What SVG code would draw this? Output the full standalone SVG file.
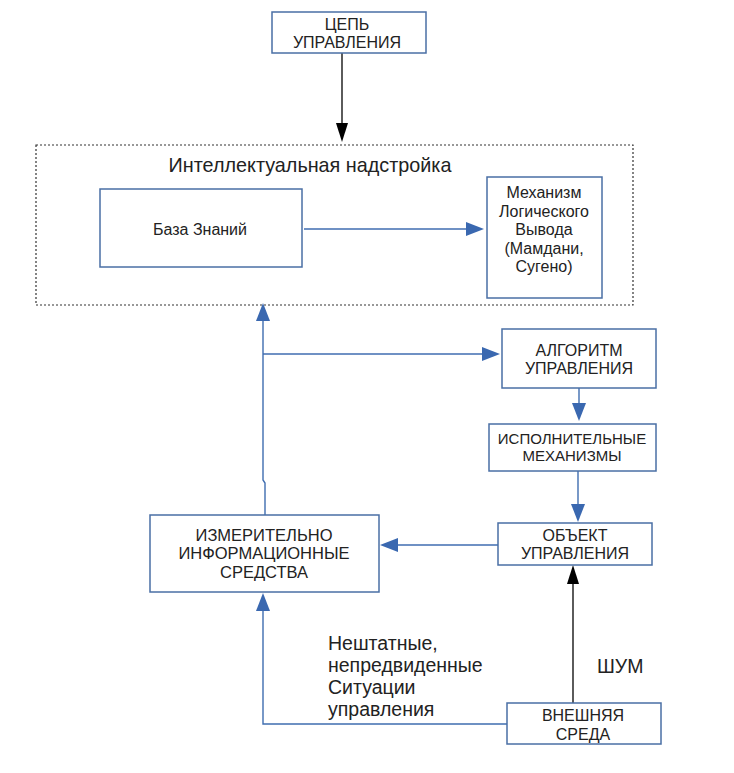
<svg xmlns="http://www.w3.org/2000/svg" width="734" height="773" viewBox="0 0 734 773">
<defs>
<style>
.box{fill:#fff;stroke:#4a6fa5;stroke-width:1.5}
.t{font-family:"Liberation Sans",Arial,sans-serif;font-size:16px;fill:#222;text-anchor:middle;dominant-baseline:central}
.big{font-family:"Liberation Sans",Arial,sans-serif;font-size:19.5px;fill:#222}
.blue{fill:none;stroke:#3f6db0;stroke-width:1.4}
.blk{fill:none;stroke:#333;stroke-width:1.6}
.hb{fill:#3a68b0}
.hk{fill:#000}
</style>
</defs>
<rect width="734" height="773" fill="#fff"/>
<g id="connectors">
<path d="M342,53 V125" class="blk"/>
<path d="M336,123 L348,123 L342,142 z" class="hk"/>
<path d="M304,229 H468" class="blue"/>
<path d="M466,222 L484,229 L466,236 z" class="hb"/>
<path d="M265,515 V483 L263,480 V320" class="blue"/>
<path d="M256,321 L263,303 L270,321 z" class="hb"/>
<path d="M263,354 H484" class="blue"/>
<path d="M482,347 L500,354 L482,361 z" class="hb"/>
<path d="M579,388 V405" class="blue"/>
<path d="M572,403 L579,421 L586,403 z" class="hb"/>
<path d="M578,471 V506" class="blue"/>
<path d="M571,504 L578,522 L585,504 z" class="hb"/>
<path d="M498,545 H396" class="blue"/>
<path d="M398,538 L380,545 L398,552 z" class="hb"/>
<path d="M507,724 H263 V610" class="blue"/>
<path d="M256,611 L263,593 L270,611 z" class="hb"/>
<path d="M573,703 V582" class="blk"/>
<path d="M567,584 L573,565 L579,584 z" class="hk"/>
</g>
<g id="nadstroyka">
<rect x="36" y="145" width="597" height="160" fill="none" stroke="#333" stroke-width="1.2" stroke-dasharray="2,2"/>
<text x="310" y="165" class="t" style="font-size:19.8px">Интеллектуальная надстройка</text>
</g>
<g id="cel">
<rect x="272" y="12" width="154" height="41" class="box"/>
<text x="347" y="24" class="t">ЦЕПЬ</text>
<text x="347" y="42" class="t">УПРАВЛЕНИЯ</text>
</g>
<g id="baza">
<rect x="100" y="189" width="202" height="78" class="box"/>
<text x="200" y="229" class="t">База Знаний</text>
</g>
<g id="mehanizm">
<rect x="487" y="177" width="115" height="121" class="box"/>
<text x="544" y="192" class="t">Механизм</text>
<text x="544" y="211" class="t">Логического</text>
<text x="544" y="229" class="t">Вывода</text>
<text x="544" y="248" class="t">(Мамдани,</text>
<text x="544" y="266" class="t">Сугено)</text>
</g>
<g id="algoritm">
<rect x="502" y="329" width="154" height="59" class="box"/>
<text x="579" y="350" class="t">АЛГОРИТМ</text>
<text x="579" y="368" class="t">УПРАВЛЕНИЯ</text>
</g>
<g id="ispoln">
<rect x="489" y="424" width="167" height="47" class="box"/>
<text x="572" y="438" class="t" style="font-size:15px">ИСПОЛНИТЕЛЬНЫЕ</text>
<text x="572" y="455" class="t" style="font-size:15px">МЕХАНИЗМЫ</text>
</g>
<g id="obekt">
<rect x="498" y="523" width="154" height="42" class="box"/>
<text x="575" y="535" class="t">ОБЪЕКТ</text>
<text x="575" y="553" class="t">УПРАВЛЕНИЯ</text>
</g>
<g id="izmer">
<rect x="150" y="515" width="229" height="77" class="box"/>
<text x="264" y="535" class="t" style="font-size:16.5px">ИЗМЕРИТЕЛЬНО</text>
<text x="264" y="553" class="t" style="font-size:16.5px">ИНФОРМАЦИОННЫЕ</text>
<text x="264" y="572" class="t" style="font-size:16.5px">СРЕДСТВА</text>
</g>
<g id="vneshnyaya">
<rect x="507" y="703" width="154" height="41" class="box"/>
<text x="583" y="715" class="t">ВНЕШНЯЯ</text>
<text x="583" y="734" class="t">СРЕДА</text>
</g>
<g id="labels">
<text x="597" y="673" class="big">ШУМ</text>
<text x="328" y="650" class="big">Нештатные,</text>
<text x="328" y="672" class="big">непредвиденные</text>
<text x="328" y="694" class="big">Ситуации</text>
<text x="328" y="716" class="big">управления</text>
</g>
</svg>
